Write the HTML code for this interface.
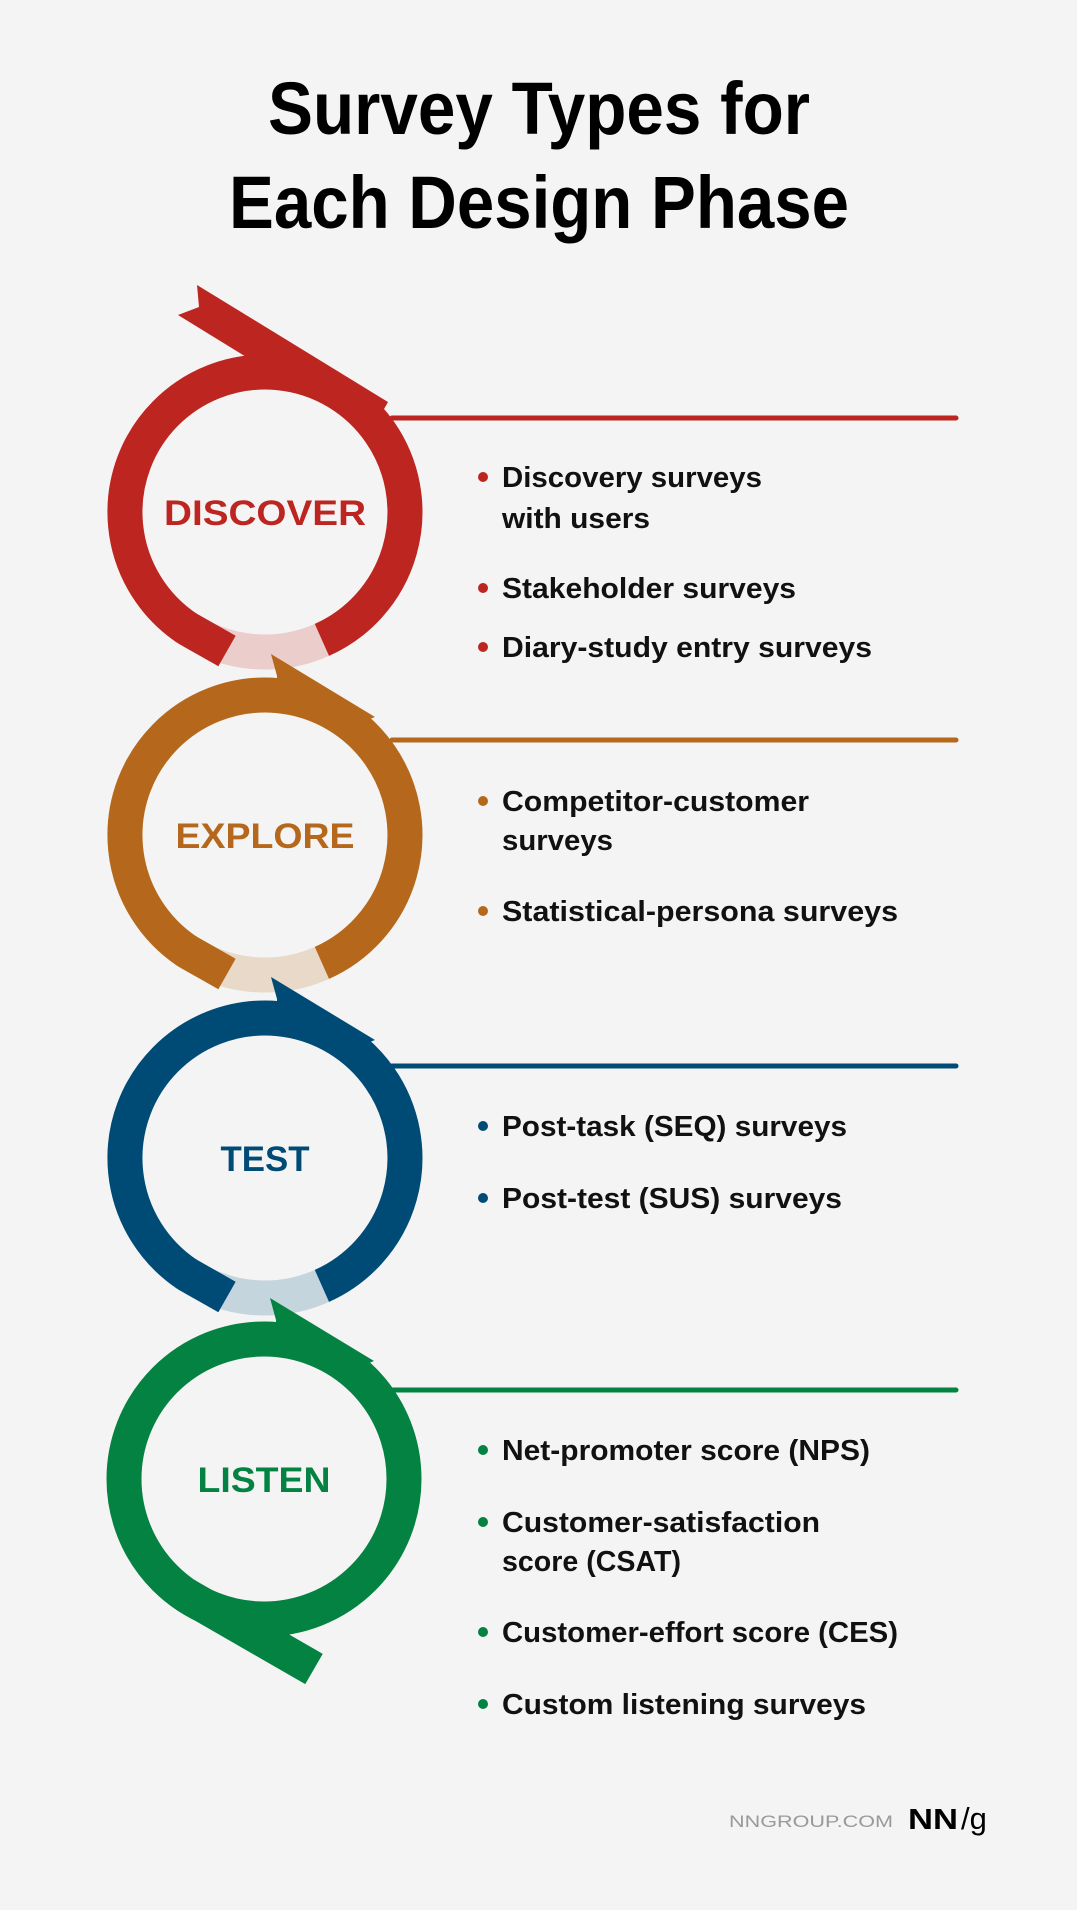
<!DOCTYPE html>
<html><head><meta charset="utf-8"><style>
html,body{margin:0;padding:0;background:#f4f4f4;}
svg{display:block;}
text{font-family:"Liberation Sans",sans-serif;}
</style></head><body>
<svg width="1077" height="1910" viewBox="0 0 1077 1910" xmlns="http://www.w3.org/2000/svg">
<rect width="1077" height="1910" fill="#f4f4f4"/>
<g font-weight="bold" fill="#000" font-size="74">
<text x="268" y="134" textLength="542" lengthAdjust="spacingAndGlyphs">Survey Types for</text>
<text x="229" y="228" textLength="620" lengthAdjust="spacingAndGlyphs">Each Design Phase</text>
</g>

<!-- DISCOVER -->
<g transform="translate(265,512)">
<circle r="140" fill="none" stroke="#ebcdcb" stroke-width="35"/>
<path d="M56.9,127.9 A140,140 0 1 0 -78.3,116.1" fill="none" stroke="#bd2520" stroke-width="35"/>
<circle cx="-78.3" cy="116.1" r="17.5" fill="#bd2520"/>
<line x1="-78.3" y1="116.1" x2="-38" y2="139" stroke="#bd2520" stroke-width="35"/>
<polygon points="-68,-227 123,-110 110,-87 35,-122 -87,-197 -66,-205" fill="#bd2520"/>
<text x="0" y="13" text-anchor="middle" font-size="35" font-weight="bold" fill="#bd2520" textLength="202" lengthAdjust="spacingAndGlyphs">DISCOVER</text>
</g>
<!-- EXPLORE -->
<g transform="translate(265,835)">
<circle r="140" fill="none" stroke="#e8d9c8" stroke-width="35"/>
<path d="M56.9,127.9 A140,140 0 1 0 -78.3,116.1" fill="none" stroke="#b5681b" stroke-width="35"/>
<circle cx="-78.3" cy="116.1" r="17.5" fill="#b5681b"/>
<line x1="-78.3" y1="116.1" x2="-38" y2="139" stroke="#b5681b" stroke-width="35"/>
<polygon points="6,-181 110,-118 90,-110 12,-150 12,-159" fill="#b5681b"/>
<text x="0" y="13" text-anchor="middle" font-size="35" font-weight="bold" fill="#b5681b" textLength="179" lengthAdjust="spacingAndGlyphs">EXPLORE</text>
</g>
<!-- TEST -->
<g transform="translate(265,1158)">
<circle r="140" fill="none" stroke="#c5d5de" stroke-width="35"/>
<path d="M56.9,127.9 A140,140 0 1 0 -78.3,116.1" fill="none" stroke="#004b76" stroke-width="35"/>
<circle cx="-78.3" cy="116.1" r="17.5" fill="#004b76"/>
<line x1="-78.3" y1="116.1" x2="-38" y2="139" stroke="#004b76" stroke-width="35"/>
<polygon points="6,-181 110,-118 90,-110 12,-150 12,-159" fill="#004b76"/>
<text x="0" y="13" text-anchor="middle" font-size="35" font-weight="bold" fill="#004b76" textLength="89" lengthAdjust="spacingAndGlyphs">TEST</text>
</g>
<!-- LISTEN -->
<g transform="translate(264,1479)">
<circle r="140" fill="none" stroke="#048241" stroke-width="35"/>
<line x1="-78.3" y1="116.1" x2="50" y2="190" stroke="#048241" stroke-width="35"/>
<polygon points="6,-181 110,-118 90,-110 12,-150 12,-159" fill="#048241"/>
<text x="0" y="13" text-anchor="middle" font-size="35" font-weight="bold" fill="#048241" textLength="133" lengthAdjust="spacingAndGlyphs">LISTEN</text>
</g>

<!-- lines -->
<g stroke-width="5" stroke-linecap="round">
<line x1="392" y1="418" x2="956" y2="418" stroke="#bd2520"/>
<line x1="392" y1="740" x2="956" y2="740" stroke="#b5681b"/>
<line x1="392" y1="1066" x2="956" y2="1066" stroke="#004b76"/>
<line x1="391" y1="1390" x2="956" y2="1390" stroke="#048241"/>
</g>

<!-- list items -->
<g font-size="29" font-weight="bold" fill="#111">
<text x="502" y="487" textLength="260" lengthAdjust="spacingAndGlyphs">Discovery surveys</text>
<text x="502" y="528" textLength="148" lengthAdjust="spacingAndGlyphs">with users</text>
<text x="502" y="598" textLength="294" lengthAdjust="spacingAndGlyphs">Stakeholder surveys</text>
<text x="502" y="657" textLength="370" lengthAdjust="spacingAndGlyphs">Diary-study entry surveys</text>

<text x="502" y="811" textLength="307" lengthAdjust="spacingAndGlyphs">Competitor-customer</text>
<text x="502" y="850" textLength="111" lengthAdjust="spacingAndGlyphs">surveys</text>
<text x="502" y="921" textLength="396" lengthAdjust="spacingAndGlyphs">Statistical-persona surveys</text>

<text x="502" y="1136" textLength="345" lengthAdjust="spacingAndGlyphs">Post-task (SEQ) surveys</text>
<text x="502" y="1208" textLength="340" lengthAdjust="spacingAndGlyphs">Post-test (SUS) surveys</text>

<text x="502" y="1460" textLength="368" lengthAdjust="spacingAndGlyphs">Net-promoter score (NPS)</text>
<text x="502" y="1532" textLength="318" lengthAdjust="spacingAndGlyphs">Customer-satisfaction</text>
<text x="502" y="1571" textLength="179" lengthAdjust="spacingAndGlyphs">score (CSAT)</text>
<text x="502" y="1642" textLength="396" lengthAdjust="spacingAndGlyphs">Customer-effort score (CES)</text>
<text x="502" y="1714" textLength="364" lengthAdjust="spacingAndGlyphs">Custom listening surveys</text>
</g>
<g>
<circle cx="483" cy="477" r="5" fill="#bd2520"/>
<circle cx="483" cy="588" r="5" fill="#bd2520"/>
<circle cx="483" cy="647" r="5" fill="#bd2520"/>
<circle cx="483" cy="801" r="5" fill="#b5681b"/>
<circle cx="483" cy="911" r="5" fill="#b5681b"/>
<circle cx="483" cy="1126" r="5" fill="#004b76"/>
<circle cx="483" cy="1198" r="5" fill="#004b76"/>
<circle cx="483" cy="1450" r="5" fill="#048241"/>
<circle cx="483" cy="1522" r="5" fill="#048241"/>
<circle cx="483" cy="1632" r="5" fill="#048241"/>
<circle cx="483" cy="1704" r="5" fill="#048241"/>
</g>

<!-- footer -->
<text x="729" y="1827" font-size="17" fill="#9a9a9a" textLength="164" lengthAdjust="spacingAndGlyphs">NNGROUP.COM</text>
<text x="908" y="1829" font-size="29" font-weight="bold" fill="#000" textLength="50" lengthAdjust="spacingAndGlyphs">NN</text>
<text x="961" y="1829" font-size="31" fill="#000" font-family="Liberation Serif, serif">/g</text>
</svg>
</body></html>
